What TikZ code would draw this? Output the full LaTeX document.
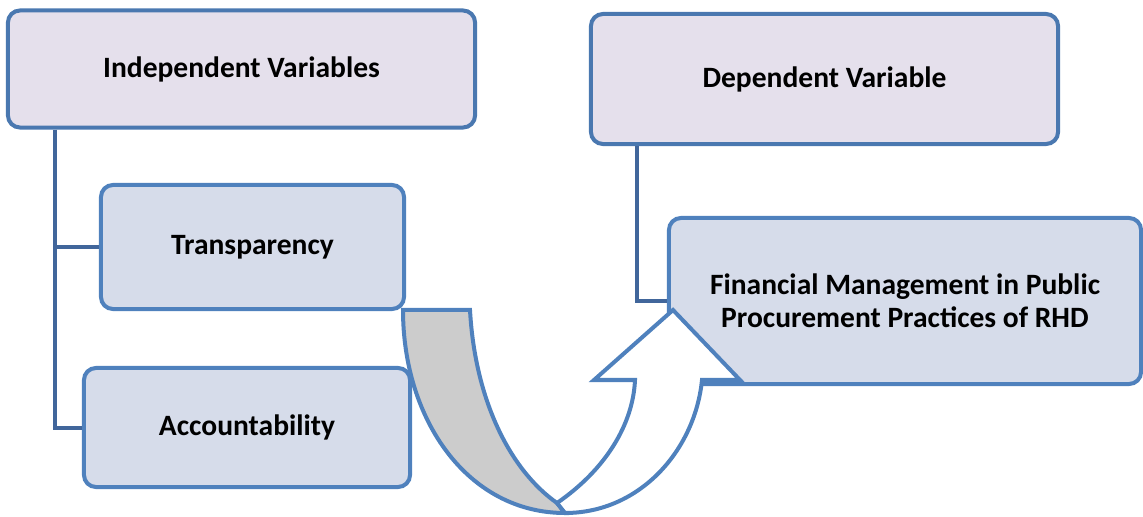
\documentclass[tikz,border=0pt]{standalone}
\usepackage{fontspec}
\setmainfont{Carlito}
\usepackage{tikz}
\usetikzlibrary{calc, positioning}
\definecolor{topline}{HTML}{4A78B0}
\definecolor{boxline}{HTML}{4F81BD}
\definecolor{treeline}{HTML}{41669B}
\definecolor{topfill}{HTML}{E5E0EC}
\definecolor{subfill}{HTML}{D6DCEA}
\definecolor{backgrey}{HTML}{CCCCCC}

\tikzset{
  varbox/.style={draw=topline, line width=0.1cm, rounded corners=0.3cm, fill=topfill,
    font=\bfseries\fontsize{21}{23.5}\selectfont, align=center},
  itembox/.style={varbox, draw=boxline, fill=subfill},
  tree/.style={draw=treeline, line width=0.1cm},
  ribbon/.style={draw=boxline, line width=0.1cm},
}

\begin{document}
\begin{tikzpicture}[x=0.025cm, y=-0.025cm]
            \useasboundingbox (0,0) rectangle (1143,517);

            % Variable boxes
            \node[varbox, minimum width=11.675cm, minimum height=2.925cm] (indep) at (241.5,69) {Independent Variables};
            \node[varbox, minimum width=11.675cm, minimum height=3.25cm] (dep) at (824.5,79) {Dependent Variable};

            \node[itembox, minimum width=7.575cm, minimum height=3.1cm] (transp) at (252.5,247) {Transparency};
            \node[itembox, minimum width=8.15cm, minimum height=2.975cm] (account) at (247,427.5) {Accountability};
            \node[itembox, minimum width=11.8cm, minimum height=4.15cm] (finman) at (905,301) {Financial Management in Public\\Procurement Practices of RHD};

            % Tree lines
            \coordinate (itrunk) at (55,127);
            \coordinate (dtrunk) at (637,144);
            \draw[tree] (indep.south -| itrunk) -- (itrunk |- account.west) -- (account.west);
            \draw[tree] (itrunk |- transp.west) -- (transp.west);
            \draw[tree] (dep.south -| dtrunk) -- (dtrunk |- finman.west) -- (finman.west);

            % Curved up arrow
            \coordinate (tip) at (673,310);
            \draw[ribbon, fill=backgrey] (403,310) -- (470,310) .. controls (475,400) and (510,470) .. (557,503)
                -- (565,513) .. controls (468,513) and (403,420) .. cycle;
            \draw[ribbon, fill=white] (557,503) .. controls (605,470) and (633,425) .. (635,380)
                -- (594,380) -- (tip) -- (740,380) -- (702,380)
                .. controls (695,450) and (640,513) .. (565,513) -- cycle;
          \end{tikzpicture}
\end{document}
